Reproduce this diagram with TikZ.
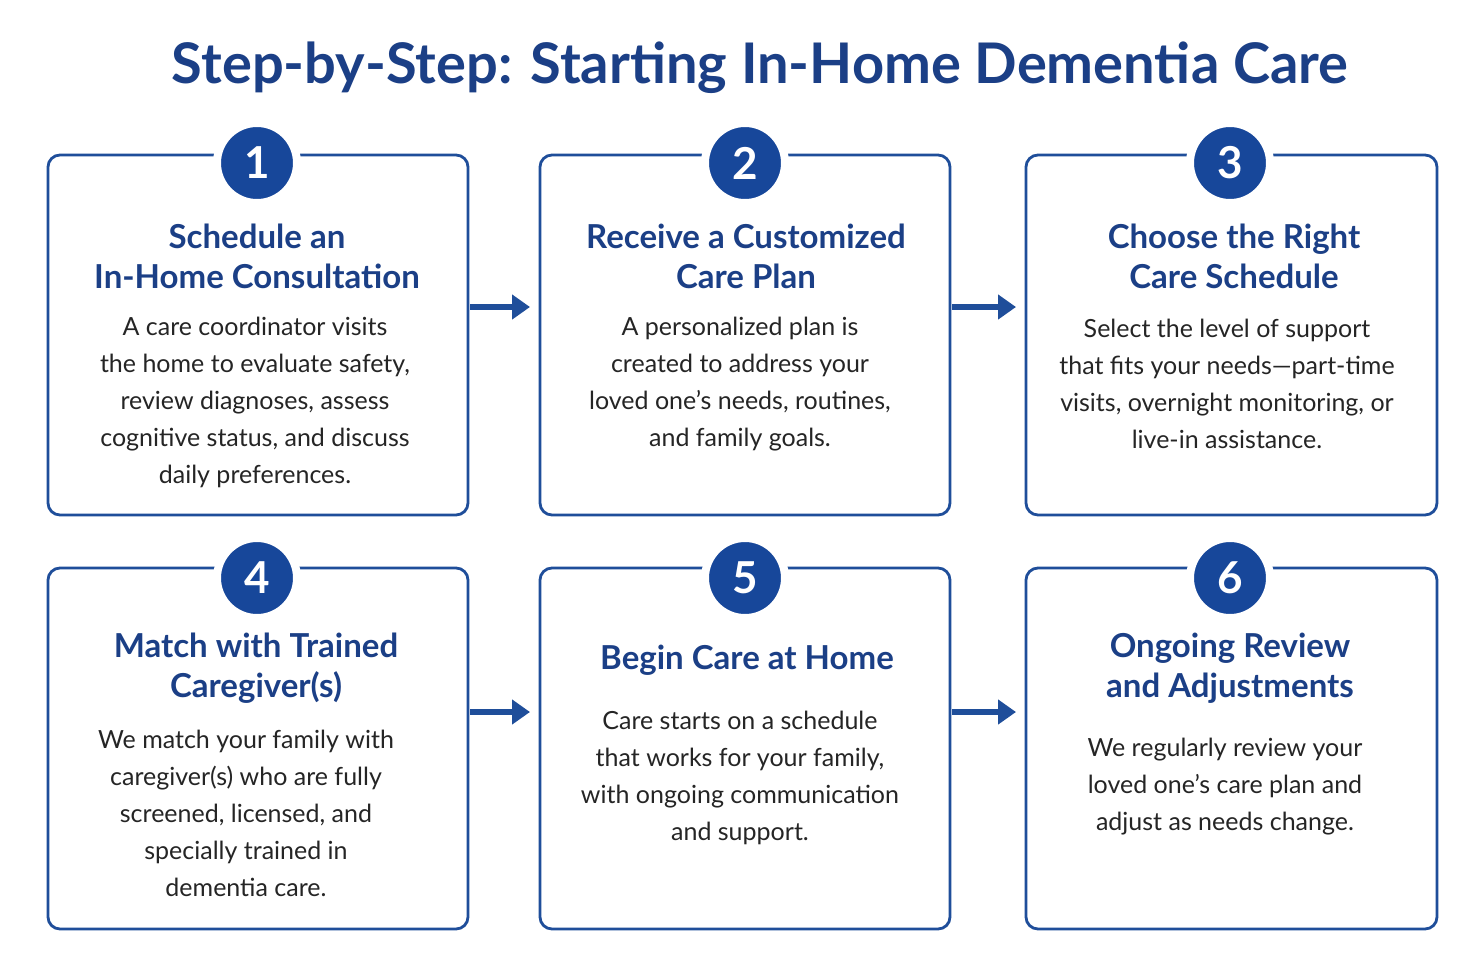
\documentclass[tikz,border=0pt]{standalone}
\usepackage{fontspec}
\usetikzlibrary{arrows.meta}
\setmainfont{Lato}
\definecolor{navy}{HTML}{1B3F86}
\definecolor{boxblue}{HTML}{1F4E9A}
\definecolor{circ}{HTML}{17479A}
\definecolor{body}{HTML}{252525}
\begin{document}
\begin{tikzpicture}[x=0.5pt,y=-0.5pt,
 box/.style={draw=boxblue,line width=1.4pt,rounded corners=6pt},
 num/.style={circle,fill=circ,draw=white,line width=4pt,minimum size=40pt,inner sep=0pt,text=white,font=\bfseries\fontsize{22}{22}\selectfont},
 head/.style={align=center,text=navy,font=\bfseries\fontsize{16.5}{20}\selectfont},
 txt/.style={align=center,text=body,font=\fontsize{12.5}{18.5}\selectfont},
 arr/.style={draw=boxblue,line width=3pt,-{Triangle[length=9pt,width=12pt]}}]
\useasboundingbox (0,0) rectangle (1484,976);
\fill[white] (0,0) rectangle (1484,976);
\node[text=navy,font=\bfseries\fontsize{28}{30}\selectfont] (title) at (760,68) {Step-by-Step: Starting In-Home Dementia Care};
% boxes
\draw[box] (48,155) rectangle (468,515) coordinate (b1);
\draw[box] (540,155) rectangle (950,515);
\draw[box] (1026,155) rectangle (1437,515);
\draw[box] (48,568) rectangle (468,929);
\draw[box] (540,568) rectangle (950,929);
\draw[box] (1026,568) rectangle (1437,929);
\node[num] (n1) at (257,163) {1};
\node[num] (n2) at (745,163) {2};
\node[num] (n3) at (1230,163) {3};
\node[num] (n4) at (257,578) {4};
\node[num] (n5) at (745,578) {5};
\node[num] (n6) at (1230,578) {6};
\node[head] (h1) at (257,256) {Schedule an\\In-Home Consultation};
\node[txt] (t1) at (255,402) {A care coordinator visits\\the home to evaluate safety,\\review diagnoses, assess\\cognitive status, and discuss\\daily preferences.};
\node[head] (h2) at (746,256) {Receive a Customized\\Care Plan};
\node[txt] (t2) at (740,384) {A personalized plan is\\created to address your\\loved one’s needs, routines,\\and family goals.};
\node[head] (h3) at (1234,256) {Choose the Right\\Care Schedule};
\node[txt] (t3) at (1227,384) {Select the level of support\\that fits your needs—part-time\\visits, overnight monitoring, or\\live-in assistance.};
\node[head] (h4) at (256,668) {Match with Trained\\Caregiver(s)};
\node[txt] (t4) at (246,813) {We match your family with\\caregiver(s) who are fully\\screened, licensed, and\\specially trained in\\dementia care.};
\node[head] (h5) at (747,660) {Begin Care at Home};
\node[txt] (t5) at (740,778) {Care starts on a schedule\\that works for your family,\\with ongoing communication\\and support.};
\node[head] (h6) at (1230,668) {Ongoing Review\\and Adjustments};
\node[txt] (t6) at (1225,787) {We regularly review your\\loved one’s care plan and\\adjust as needs change.};
\coordinate (a1s) at (470,307); \coordinate (a1e) at (530,307);
\coordinate (a2s) at (952,307); \coordinate (a2e) at (1016,307);
\coordinate (a3s) at (470,712); \coordinate (a3e) at (530,712);
\coordinate (a4s) at (952,712); \coordinate (a4e) at (1016,712);
\draw[arr] (a1s) -- (a1e);
\draw[arr] (a2s) -- (a2e);
\draw[arr] (a3s) -- (a3e);
\draw[arr] (a4s) -- (a4e);
\end{tikzpicture}
\end{document}
